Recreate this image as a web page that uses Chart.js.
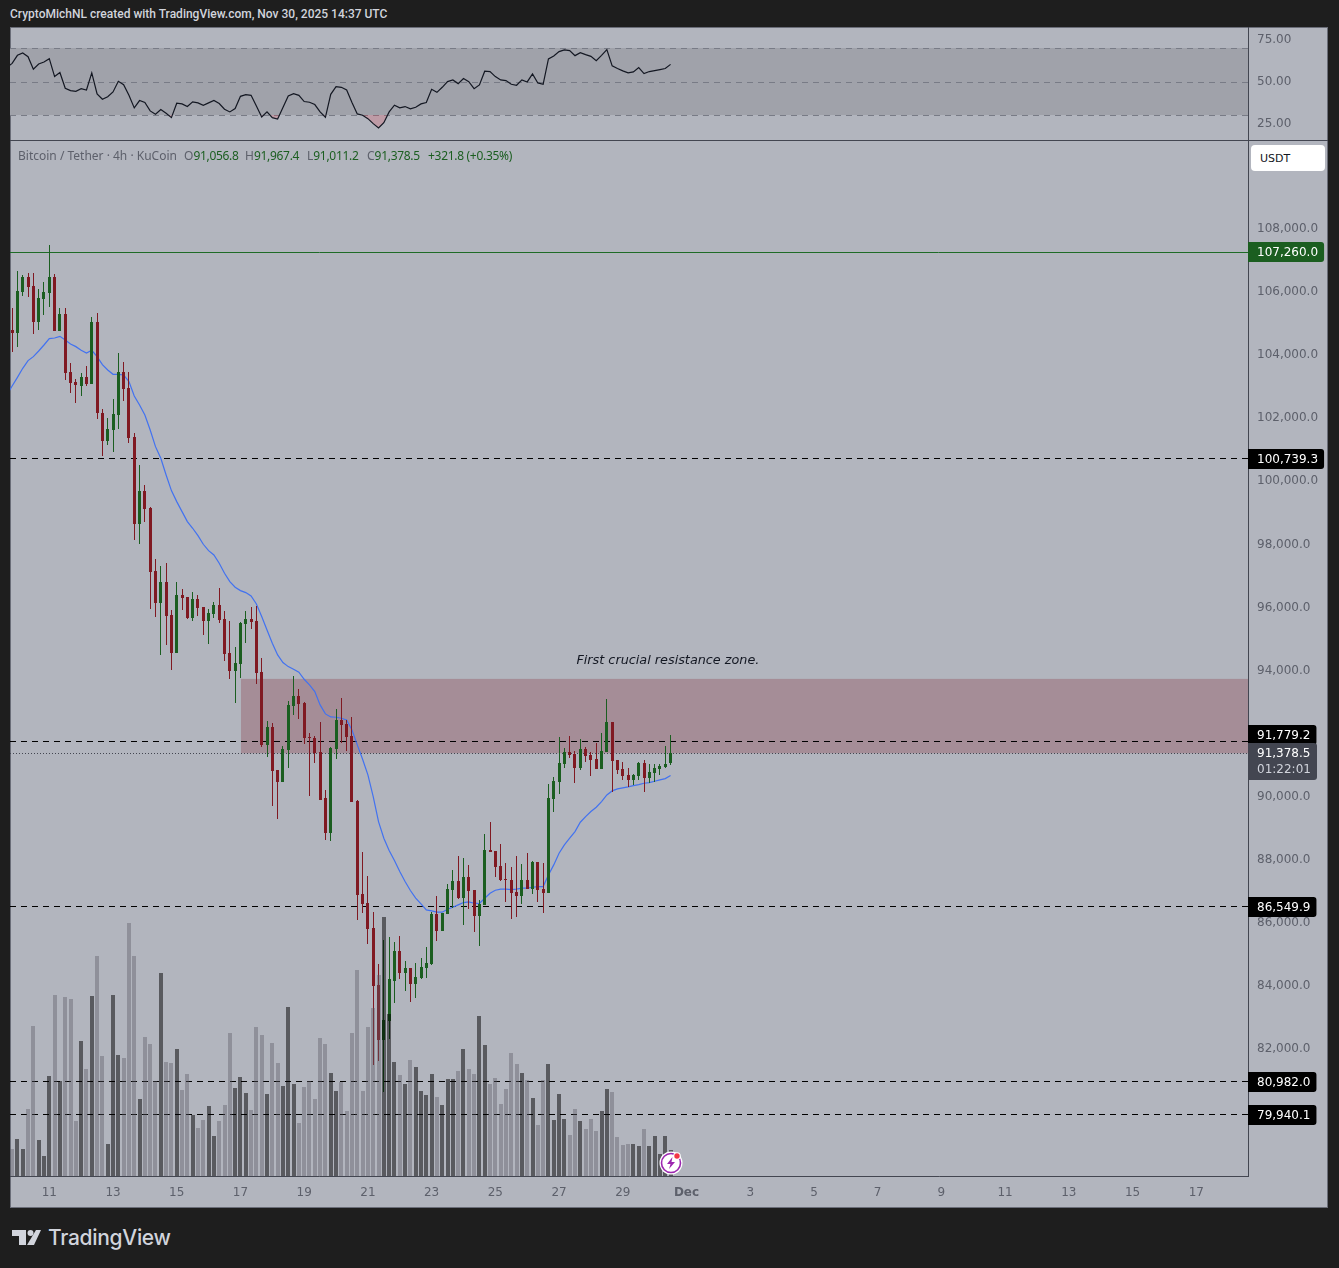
<!DOCTYPE html>
<html>
<head>
<meta charset="UTF-8">
<title>Bitcoin / Tether 4h</title>
<script src="https://cdn.jsdelivr.net/npm/chart.js@4/dist/chart.umd.js"></script>
<style>
  body { margin: 0; background: #1e1e1e; width: 1339px; height: 1268px; overflow: hidden; position: relative; font-family: "DejaVu Sans", sans-serif; }
  #frame { position: absolute; left: 10px; top: 27px; width: 1318px; height: 1181px; background: #b2b5be; box-shadow: 0 0 0 1px #6a6d78 inset; }
  canvas { position: absolute; left: 10px; }
  #rsi { top: 27px; }
  #main { top: 141px; }
  #sep { position: absolute; left: 10px; top: 140px; width: 1318px; height: 1px; background: #434651; }
  .txt { position: absolute; white-space: nowrap; }
  #head { left: 10px; top: 7px; font-size: 12px; line-height: 15px; color: #d1d4dc; font-family: Roboto, sans-serif; font-weight: 500; }
  .legend { top: 148px; font-size: 12px; line-height: 15px; color: #5d606b; font-family: "Noto Sans", sans-serif; }
  .legend b { font-weight: normal; color: #1b5e20; letter-spacing: -0.3px; }
  #usdt { position: absolute; left: 1251px; top: 145px; width: 65px; height: 26px; padding-left: 9px; background: #fff; border-radius: 4px; font-size: 11px; line-height: 27px; color: #131722; }
  #brand { left: 48px; top: 1225px; font-size: 21px; line-height: 26px; color: #d1d4dc; font-family: Inter, sans-serif; font-weight: 500; letter-spacing: -0.3px; }
  svg { position: absolute; }
</style>
</head>
<body>
<div id="frame"></div>
<canvas id="rsi" width="1318" height="113"></canvas>
<div id="sep"></div>
<canvas id="main" width="1318" height="1066"></canvas>

<div id="head" class="txt">CryptoMichNL created with TradingView.com, Nov 30, 2025 14:37 UTC</div>
<div class="txt legend" style="left:18px">Bitcoin / Tether · 4h · KuCoin</div>
<div class="txt legend" style="left:184px">O<b>91,056.8</b></div>
<div class="txt legend" style="left:245px">H<b>91,967.4</b></div>
<div class="txt legend" style="left:307px">L<b>91,011.2</b></div>
<div class="txt legend" style="left:367px">C<b>91,378.5</b></div>
<div class="txt legend" style="left:428px"><b>+321.8 (+0.35%)</b></div>
<div id="usdt">USDT</div>

<svg style="left:658px;top:1150px" width="26" height="26" viewBox="0 0 26 26">
  <circle cx="13" cy="13" r="11.5" fill="#fff"/>
  <circle cx="13" cy="13" r="9.5" fill="#fff" stroke="#9c27b0" stroke-width="1.6"/>
  <path d="M14.5 7 L9 14 H12.5 L11 19 L17 12 H13.5 Z" fill="#9c27b0"/>
  <circle cx="19" cy="6" r="3.8" fill="#fff"/>
  <circle cx="19" cy="6" r="2.7" fill="#f23645"/>
</svg>
<svg style="left:10px;top:1228px" width="34" height="20" viewBox="0 0 34 20">
  <path d="M2 2 H16 V17 H9 V8 H2 Z" fill="#d1d4dc"/>
  <circle cx="20.5" cy="5" r="3" fill="#d1d4dc"/>
  <path d="M26 2 H31 L24 17 H17 Z" fill="#d1d4dc"/>
</svg>
<div id="brand" class="txt">TradingView</div>

<script>
const opens = [
  104798,104703,106003,106478,106193,105052,105781,105971,106478,104766,
  105305,103466,103150,103023,103308,103086,105052,102167,101279,101628,
  102103,103466,102959,101406,98648,99694,99155,97158,96144,96809,
  95763,94559,96397,96334,95668,96271,96017,95573,95795,96080,
  95637,94559,93988,94210,95478,95637,95573,93957,91642,92213,
  90850,90469,91484,92879,93196,92974,91896,91864,91421,89962,
  88853,91516,92435,92308,91928,89867,86919,86634,85841,84034,
  82291,82893,84161,85112,84415,84573,84066,84256,84573,84700,
  86285,85746,86285,87046,87331,86792,87458,87046,86222,86570,
  88314,88282,87807,87395,87363,86982,86855,87363,87078,87933,
  87078,86951,89931,90470,91040,91421,91357,90913,91516,91325,
  91199,90882,91421,92372,91167,90882,90692,90533,90660,91072,
  90596,90755,90882,90945,91056.8
];
const closes = [
  104703,106034,106478,106161,105052,105812,106003,106478,104766,105305,
  103435,103118,103054,103308,103086,105052,102167,101279,101659,102135,
  103466,102928,101374,98648,99694,99124,97126,96144,96809,95732,
  94559,96397,96302,95668,96271,95985,95573,95827,96080,95605,
  94527,93988,94242,95510,95637,95541,93925,91642,92213,90818,
  90469,91516,92910,93196,92942,91864,91864,91389,89899,88853,
  91547,92435,92276,91896,89836,86887,86602,85810,84003,82291,
  82925,84225,85112,84415,84573,84066,84288,84605,84732,86285,
  85746,86317,87078,87331,86792,87458,87014,86222,86602,88314,
  88261,87775,87363,87363,86951,86855,87363,87078,87933,87046,
  86951,89962,90501,91072,91421,91325,90913,91516,91294,91167,
  90882,91452,92372,91135,90850,90660,90533,90692,91072,90596,
  90787,90913,90977,91040,91378.5
];
const highs = [
  105495,106668,106541,106605,106605,106098,106320,107492,106573,105495,
  105495,103752,103245,103435,103657,105210,105337,102294,102008,102611,
  104069,103783,103466,101533,100518,99885,99187,97539,97317,97412,
  95922,96809,96588,96334,96492,96397,96017,95954,96175,96619,
  95890,95573,94749,95541,95890,96017,96049,94400,92403,92340,
  90850,91611,93037,93830,93418,93006,92023,91928,92372,90216,
  91579,92784,93132,92435,92530,89899,88251,87490,86349,84700,
  85461,85556,85398,85588,84795,84573,84732,84890,85239,86349,
  86856,86317,87236,87680,88124,88060,87838,87046,86729,88821,
  89202,88282,88504,87902,87775,88124,87870,88219,87965,87933,
  87902,90406,90628,91896,91547,91928,91452,91833,91579,91421,
  91706,92023,93101,92372,91167,91104,90913,90723,91104,91167,
  91040,91040,91040,91611,91967.4
];
const lows = [
  104100,104259,105876,105844,104671,104798,105273,105527,104766,104766,
  103213,102801,102484,102706,103023,103086,101977,100803,101152,100930,
  101659,102547,101216,98141,98014,98712,95954,95700,94495,94812,
  94020,94559,95922,95637,95573,95732,95129,94844,95668,95510,
  94305,93735,92974,93766,94876,95320,93576,91579,91262,89709,
  89297,90469,90913,92593,92467,91674,90026,91072,89899,88631,
  88599,91199,91706,91452,89836,86095,86317,85334,81499,81625,
  80652,82322,83464,84225,83844,83495,83622,84225,84256,84668,
  85429,85746,86285,86475,86761,85936,86444,85714,85271,86570,
  88250,87458,87331,86665,86127,86190,86602,87078,86919,86665,
  86317,86951,89518,90089,90913,91230,90438,90850,91104,90660,
  90882,90882,91421,90152,90723,90533,90311,90374,90533,90152,
  90438,90470,90692,90913,91011.2
];
const volumes = [
  27,37,27,67,150,36,20,100,181,95,
  179,177,55,135,107,180,220,120,32,181,
  121,118,253,220,77,139,132,95,203,114,
  113,127,86,102,61,48,56,70,40,55,
  71,143,88,99,83,66,149,141,82,133,
  113,90,169,92,53,89,95,77,138,132,
  103,85,94,65,143,206,85,149,168,201,
  259,162,114,101,92,116,109,85,81,102,
  79,71,97,97,105,127,107,102,160,131,
  92,98,72,87,123,112,103,96,78,51,
  96,112,56,82,57,41,67,55,47,57,
  45,65,87,84,39,31,32,32,30,47,
  30,40,22,40,26
];
// first value of these two belongs to the bar just left of the visible range
const emaValues = [
  102737,103023,103297,103583,103826,103953,104132,104322,104523,104544,104597,
  104481,104354,104270,104153,104069,104153,103953,103699,103530,103393,
  103393,103371,103160,102706,102420,102103,101628,101099,100730,100201,
  99705,99356,99039,98722,98511,98278,98004,97803,97665,97401,
  97084,96820,96640,96535,96471,96366,96112,95711,95288,94865,
  94495,94252,94125,94041,93946,93724,93544,93333,92910,92625,
  92530,92519,92488,92435,92118,91642,91188,90691,90004,89212,
  88684,88293,87976,87627,87310,87025,86782,86602,86412,86380,
  86338,86338,86433,86496,86570,86644,86666,86623,86613,86782,
  86940,87035,87067,87067,87057,87067,87099,87099,87130,87152,
  87152,87521,87838,88208,88472,88684,88895,89191,89370,89529,
  89666,89846,90057,90184,90248,90279,90311,90353,90385,90427,
  90448,90491,90533,90575,90670
];
const rsiValues = [
  58.4,60.9,65.7,67.1,64.9,57.4,60.5,61.7,63.7,53.0,55.4,
  46.0,44.6,44.2,45.8,45.0,55.2,42.6,39.5,41.0,43.8,
  50.2,48.2,41.8,34.3,38.7,37.5,32.5,30.5,33.3,31.1,
  28.5,37.1,36.7,35.1,37.9,37.3,35.9,37.3,38.7,36.9,
  33.5,31.9,33.9,41.2,42.2,41.8,35.5,28.9,31.9,28.5,
  27.7,34.5,41.4,42.8,41.8,38.1,37.7,36.3,31.9,28.7,
  42.4,47.0,46.6,45.0,37.5,30.7,29.9,27.9,24.9,22.3,
  25.5,31.9,35.9,34.3,35.1,33.7,34.7,36.7,37.5,45.4,
  43.6,46.6,50.0,51.0,48.8,51.8,50.0,45.8,48.0,56.2,
  56.0,53.0,51.0,50.6,48.4,47.8,51.0,49.8,54.6,49.2,
  48.4,63.5,65.3,67.9,68.9,68.5,65.5,67.3,66.1,65.1,
  62.5,65.7,69.1,59.4,57.8,56.4,55.2,55.8,58.4,54.8,
  56.0,56.6,57.2,57.8,60.3
];

const priceTicks = [108000,106000,104000,102000,100000,98000,96000,94000,90000,88000,86000,84000,82000];
const rsiTicks = [75, 50, 25];
const rsiBands = [70, 50, 30];
const timeTickLabels = ['11','13','15','17','19','21','23','25','27','29','Dec','3','5','7','9','11','13','15','17'];

const resistanceLine = 107260.0;
const supportLines = [100739.3, 91779.2, 86549.9, 80982.0, 79940.1];
const lastPrice = 91378.5;
const countdown = '01:22:01';
const zoneTop = 93735;
const zoneStartBar = 43.1;
const noteText = 'First crucial resistance zone.';
const noteBar = 123.5;
const notePrice = 94306;

const X_MIN = -0.4, X_MAX = 232.74;
const FIRST_TICK_BAR = 7, BARS_PER_TICK = 12;
const GREEN = '#1b5e20', RED = '#801922', TICK = '#5d606b', AXIS = '#434651';
const FONT = '"DejaVu Sans", sans-serif';

const isUp = closes.map((c, i) => c >= opens[i]);
const fmt = v => v.toLocaleString('en-US', {minimumFractionDigits: 1, maximumFractionDigits: 1});
const hline = v => [{x: X_MIN, y: v}, {x: X_MAX, y: v}];

// the y axes must run over the full pane height, chart.js keeps half a label free otherwise
function fitRightAxis(scale) {
  scale.width = 80;
  scale.paddingTop = scale.paddingBottom = 0;
  scale._margins.top = scale._margins.bottom = 0;
}

// TradingView snaps its marks to whole pixels, do the same after the scales did their work
const snapPlugin = {
  id: 'snap',
  afterDatasetsUpdate(chart) {
    chart.data.datasets.forEach((ds, n) => {
      if (!ds.snap) return;
      chart.getDatasetMeta(n).data.forEach(el => {
        if (ds.type === 'line') {
          el.y = Math.round(el.y) + 0.5;
        } else {
          el.x = ds.barThickness % 2 ? Math.floor(el.x) + 0.5 : Math.round(el.x);
          el.y = Math.round(el.y);
          el.base = Math.round(el.base);
          if (el.y === el.base) el.base = el.y + 1;
        }
      });
    });
  }
};

const overlayPlugin = {
  id: 'overlay',
  beforeDatasetsDraw(chart) {
    const {ctx, chartArea} = chart;
    const x = chart.scales.x, y = chart.scales.y;
    const left = x.getPixelForValue(zoneStartBar);
    const top = y.getPixelForValue(zoneTop);
    ctx.save();
    ctx.fillStyle = 'rgba(128,25,34,0.25)';
    ctx.fillRect(left, top, chartArea.right - left, y.getPixelForValue(lastPrice) - top);
    ctx.restore();
  },
  afterDraw(chart) {
    const {ctx, chartArea} = chart;
    const x = chart.scales.x, y = chart.scales.y;
    ctx.save();
    ctx.textBaseline = 'middle';

    ctx.font = 'italic 12.8px ' + FONT;
    ctx.fillStyle = '#131722';
    ctx.textAlign = 'center';
    ctx.fillText(noteText, x.getPixelForValue(noteBar), y.getPixelForValue(notePrice));

    ctx.font = '12px ' + FONT;
    ctx.textAlign = 'left';
    const box = (text, price, shift, bg) => {
      const centre = Math.round(y.getPixelForValue(price)) + shift;
      const w = ctx.measureText(text).width + 15;
      ctx.fillStyle = bg;
      ctx.beginPath();
      ctx.roundRect(chartArea.right, centre - 10, w, 20, [0, 3, 3, 0]);
      ctx.fill();
      ctx.fillStyle = '#fff';
      ctx.fillText(text, chartArea.right + 9, centre + 1);
    };
    box(fmt(resistanceLine), resistanceLine, 0, GREEN);
    // 91,779.2 sits against the last price box, so it gets pushed up
    supportLines.forEach(v => box(fmt(v), v, v === 91779.2 ? -6 : 1, '#000'));

    const py = Math.round(y.getPixelForValue(lastPrice));
    ctx.fillStyle = AXIS;
    ctx.beginPath();
    ctx.roundRect(chartArea.right, py - 10, 69, 37, [0, 3, 3, 0]);
    ctx.fill();
    ctx.fillStyle = '#fff';
    ctx.fillText(fmt(lastPrice), chartArea.right + 9, py + 1);
    ctx.fillStyle = '#d1d4dc';
    ctx.fillText(countdown, chartArea.right + 9, py + 17);
    ctx.restore();
  }
};

const barDefaults = {type: 'bar', grouped: false, borderWidth: 0, inflateAmount: 0, snap: true};

new Chart(document.getElementById('main'), {
  type: 'bar',
  plugins: [snapPlugin, overlayPlugin],
  data: {
    datasets: [
      {...barDefaults, label: 'Volume', order: 1, yAxisID: 'yVol', barThickness: 4,
        data: volumes.map((v, i) => ({x: i, y: [0, v]})),
        backgroundColor: isUp.map(u => u ? 'rgba(0,0,0,0.5)' : 'rgba(90,90,100,0.4)')},
      {...barDefaults, label: 'Bodies', order: 2, barThickness: 3,
        data: opens.map((o, i) => ({x: i, y: [o, closes[i]]})),
        backgroundColor: isUp.map(u => u ? GREEN : RED)},
      {...barDefaults, label: 'Wicks', order: 3, barThickness: 1,
        data: lows.map((l, i) => ({x: i, y: [l, highs[i]]})),
        backgroundColor: isUp.map(u => u ? GREEN : RED)},
      {type: 'line', label: 'EMA', order: 4, borderColor: '#4272f0', borderWidth: 1.2, pointRadius: 0, tension: 0,
        data: emaValues.map((v, i) => ({x: i - 1, y: v}))},
      {type: 'line', label: 'Last', order: 5, snap: true, borderColor: '#434651', borderWidth: 1, borderDash: [1, 2], pointRadius: 0,
        data: hline(lastPrice)},
      {type: 'line', label: 'Resistance', order: 5, snap: true, borderColor: '#1e6b26', borderWidth: 1, pointRadius: 0,
        data: hline(resistanceLine)},
      ...supportLines.map(v => ({type: 'line', label: fmt(v), order: 5, snap: true, borderColor: '#000', borderWidth: 1,
        borderDash: [6, 5], pointRadius: 0, data: hline(v)}))
    ]
  },
  options: {
    responsive: false,
    animation: false,
    events: [],
    layout: {padding: 0, autoPadding: false},
    plugins: {legend: {display: false}, tooltip: {enabled: false}},
    scales: {
      x: {
        type: 'linear', min: X_MIN, max: X_MAX, offset: false,
        grid: {display: false},
        border: {display: true, color: AXIS},
        afterBuildTicks: s => { s.ticks = timeTickLabels.map((_, k) => ({value: FIRST_TICK_BAR + k * BARS_PER_TICK})); },
        afterFit: s => { s.height = 31; },
        ticks: {
          autoSkip: false, maxRotation: 0, padding: 2, color: TICK,
          font: ctx => ({family: FONT, size: 12, weight: ctx.index === 10 ? 'bold' : 'normal'}),
          callback: (v, i) => timeTickLabels[i]
        }
      },
      y: {
        position: 'right', min: 77974, max: 110790,
        grid: {display: false},
        border: {display: true, color: AXIS},
        afterBuildTicks: s => { s.ticks = priceTicks.map(v => ({value: v})); },
        afterFit: fitRightAxis,
        ticks: {autoSkip: false, padding: 1, color: TICK, font: {family: FONT, size: 12}, callback: v => fmt(v)}
      },
      yVol: {display: false, min: 0, max: 1035}
    }
  }
});

new Chart(document.getElementById('rsi'), {
  type: 'line',
  plugins: [snapPlugin],
  data: {
    datasets: [
      {label: 'RSI', order: 1, borderColor: '#131722', borderWidth: 1.2, pointRadius: 0, tension: 0,
        data: rsiValues.map((v, i) => ({x: i - 1, y: v})),
        fill: {target: {value: rsiBands[2]}, above: 'rgba(0,0,0,0)', below: 'rgba(242,54,69,0.2)'}},
      {label: 'Band', order: 3, borderWidth: 0, pointRadius: 0, data: hline(rsiBands[0]),
        fill: {target: {value: rsiBands[2]}, above: '#a0a2aa', below: '#a0a2aa'}},
      ...rsiBands.map(v => ({label: 'b' + v, order: 2, snap: true, type: 'line', borderColor: '#787b86', borderWidth: 1,
        borderDash: [6, 5], pointRadius: 0, data: hline(v)}))
    ]
  },
  options: {
    responsive: false,
    animation: false,
    events: [],
    layout: {padding: 0, autoPadding: false},
    plugins: {legend: {display: false}, tooltip: {enabled: false}},
    scales: {
      x: {type: 'linear', display: false, min: X_MIN, max: X_MAX},
      y: {
        position: 'right', min: 15.14, max: 82.6,
        grid: {display: false},
        border: {display: true, color: AXIS},
        afterBuildTicks: s => { s.ticks = rsiTicks.map(v => ({value: v})); },
        afterFit: fitRightAxis,
        ticks: {autoSkip: false, padding: 1, color: TICK, font: {family: FONT, size: 12}, callback: v => v.toFixed(2)}
      }
    }
  }
});
</script>
</body>
</html>
